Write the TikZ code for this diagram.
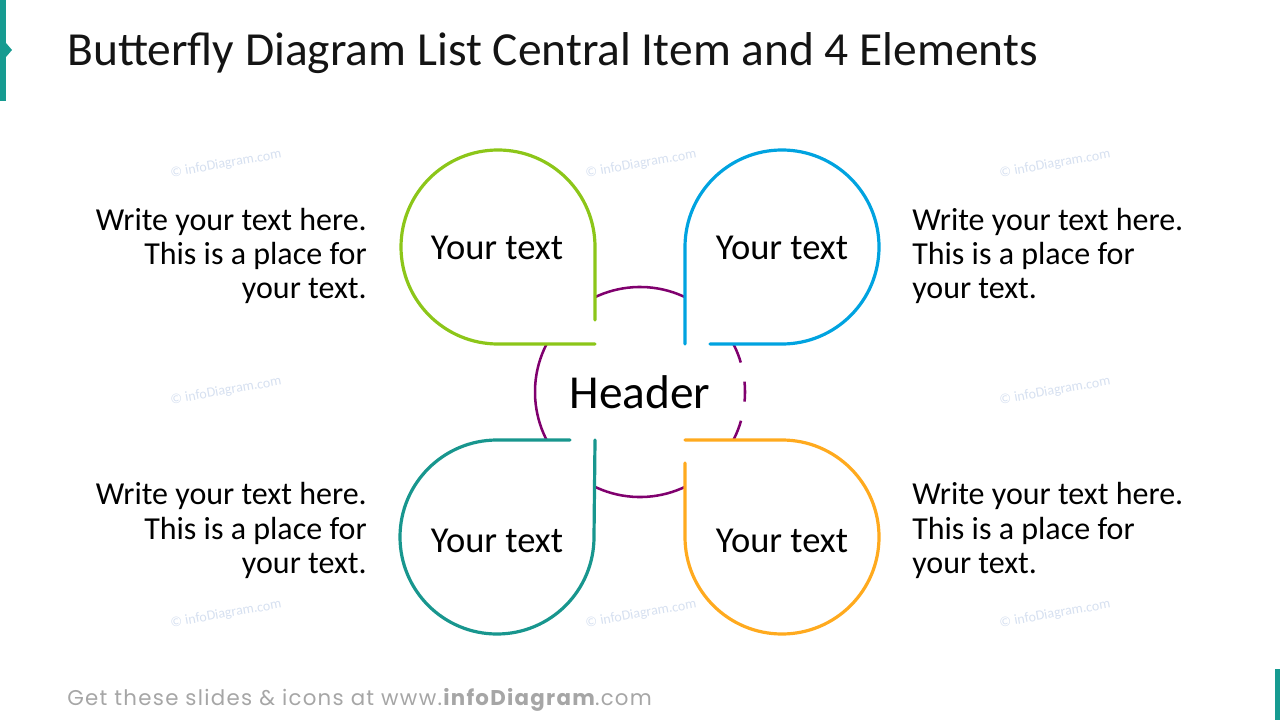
\documentclass[tikz,border=0pt]{standalone}
\usepackage{fontspec}
\setmainfont{Carlito}
\newfontfamily\footfont[LetterSpace=6]{Poppins}
\definecolor{cgreen}{RGB}{140,198,25}
\definecolor{cblue}{RGB}{0,163,224}
\definecolor{cteal}{RGB}{24,150,142}
\definecolor{corange}{RGB}{255,170,30}
\definecolor{cpurple}{RGB}{128,0,110}
\definecolor{cmark}{RGB}{22,155,145}
\definecolor{cfoot}{RGB}{166,166,166}
\definecolor{cwm}{RGB}{214,224,240}
\definecolor{ctitle}{RGB}{20,20,20}
\tikzset{
  petal/.style={line width=2.4pt, line cap=round, fill=white},
  body/.style={inner sep=0pt, font=\fontsize{24}{27}\selectfont, text=black},
  ltext/.style={body, anchor=base east},
  rtext/.style={body, anchor=base west},
  petaltext/.style={inner sep=0pt, anchor=base, font=\fontsize{27.4}{30}\selectfont},
  wmark/.style={inner sep=0pt, rotate=10, text=cwm, font=\fontsize{10.5}{12}\selectfont}
}
\begin{document}
\begin{tikzpicture}[x=0.75pt,y=-0.75pt]
\useasboundingbox (0,0) rectangle (1280,720);
% corner marks
\fill[cmark] (0,0) rectangle (6,101);
\fill[cmark] (6,43) -- (12,50) -- (6,57) -- cycle;
\fill[cmark] (1275,669) rectangle (1280,720);
% title
\node[inner sep=0pt, anchor=base west, text=ctitle, font=\fontsize{35.6}{40}\selectfont] (title) at (67,66) {Butterfly Diagram List Central Item and 4 Elements};
% watermarks
\foreach \wx/\wy [count=\i] in {226/164,641/164,1055/164,226/391,1055/391,226/614,641/614,1055/614}{
  \node[wmark] (wm\i) at (\wx,\wy) {\textcopyright{} infoDiagram.com};
}
% central circle
\coordinate (c) at (640,392);
\draw[cpurple, line width=1.9pt] ([shift={(27.2:105)}]c) arc[start angle=27.2, end angle=332.8, radius=105];
\draw[cpurple, line width=1.9pt, dash pattern=on 15pt off 14.6pt] ([shift={(-27.2:105)}]c) arc[start angle=-27.2, end angle=27.2, radius=105];
% petals: white fill
\fill[white] (595,344) -- (595,247) arc[start angle=0, end angle=-270, radius=97] -- cycle;
\fill[white] (685,344) -- (782,344) arc[start angle=90, end angle=-180, radius=97] -- cycle;
\fill[white] (595,440) -- (497,440) arc[start angle=-90, end angle=-360, radius=97] -- cycle;
\fill[white] (685,440) -- (685,537) arc[start angle=180, end angle=-90, radius=97] -- cycle;
% petals: outlines
\draw[petal, fill=none, cgreen] (595,320) -- (595,247) arc[start angle=0, end angle=-270, radius=97] -- (595,344);
\draw[petal, fill=none, cblue] (710,344) -- (782,344) arc[start angle=90, end angle=-180, radius=97] -- (685,344);
\draw[petal, fill=none, cteal] (570,440) -- (497,440) arc[start angle=-90, end angle=-360, radius=97] -- (595,440);
\draw[petal, fill=none, corange] (685,463) -- (685,537) arc[start angle=180, end angle=-90, radius=97] -- (685,440);
% petal texts
\node[petaltext] (p1) at (497,259) {Your text};
\node[petaltext] (p2) at (782,259) {Your text};
\node[petaltext] (p3) at (497,552) {Your text};
\node[petaltext] (p4) at (782,552) {Your text};
\node[inner sep=0pt, anchor=base, font=\fontsize{35.5}{40}\selectfont] (header) at (640,408) {Header};
% side texts
\node[ltext] (l1a) at (367,230) {Write your text here.};
\node[ltext] (l1b) at (367,264) {This is a place for};
\node[ltext] (l1c) at (367,298) {your text.};
\node[rtext] (r1a) at (912,230) {Write your text here.};
\node[rtext] (r1b) at (912,264) {This is a place for};
\node[rtext] (r1c) at (912,298) {your text.};
\node[ltext] (l2a) at (367,504) {Write your text here.};
\node[ltext] (l2b) at (367,539) {This is a place for};
\node[ltext] (l2c) at (367,573) {your text.};
\node[rtext] (r2a) at (912,504) {Write your text here.};
\node[rtext] (r2b) at (912,539) {This is a place for};
\node[rtext] (r2c) at (912,573) {your text.};
% footer
\node[inner sep=0pt, anchor=base west, text=cfoot, font=\footfont\fontsize{16}{18}\selectfont] (foot) at (67,705) {Get these slides \& icons at www.\textbf{infoDiagram}.com};
\end{tikzpicture}
\end{document}
